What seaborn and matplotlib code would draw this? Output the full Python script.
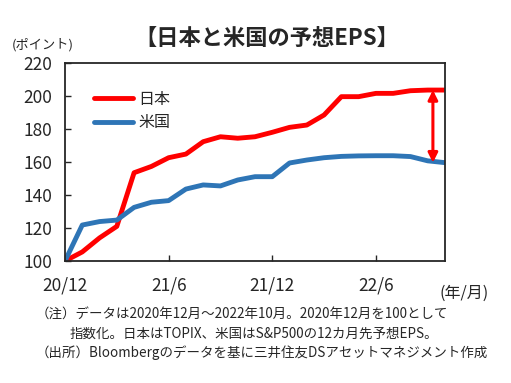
import matplotlib
matplotlib.use("Agg")
import matplotlib.pyplot as plt
import seaborn as sns
import pandas as pd

# months since 2020/12 (0 = 20/12, 22 = 22/10)
months = list(range(23))
japan_eps = [100.0, 105.5, 114.0, 121.0, 153.5, 157.3, 162.6, 164.8, 172.3, 175.3, 174.4, 175.3,
             178.0, 181.0, 182.4, 188.5, 199.6, 199.6, 201.6, 201.6, 203.2, 203.6, 203.6]
us_eps = [100.0, 121.8, 123.9, 124.8, 132.5, 135.6, 136.6, 143.6, 146.1, 145.5, 149.1, 151.1,
          151.1, 159.4, 161.2, 162.6, 163.4, 163.7, 163.8, 163.8, 163.3, 160.7, 159.6]
tick_months = [0, 6, 12, 18]
tick_labels = ["20/12", "21/6", "21/12", "22/6"]
arrow_month = 21.3

notes = [
    "（注）データは2020年12月～2022年10月。2020年12月を100として",
    "指数化。日本はTOPIX、米国はS&P500の12カ月先予想EPS。",
    "（出所）Bloombergのデータを基に三井住友DSアセットマネジメント作成",
]

sns.set_style("ticks")
plt.rcParams["font.family"] = ["Noto Sans CJK JP", "DejaVu Sans"]

RED = "#FF0000"
BLUE = "#2E75B6"
TXT = "#262626"

df = pd.DataFrame({"month": months, "日本": japan_eps, "米国": us_eps})

fig = plt.figure(figsize=(5.11, 3.83), dpi=100)
ax = fig.add_axes([65 / 511, 1 - 261 / 383, 380 / 511, 198 / 383])

sns.lineplot(data=df, x="month", y="日本", ax=ax, color=RED, lw=3.5, label="日本")
sns.lineplot(data=df, x="month", y="米国", ax=ax, color=BLUE, lw=3.5, label="米国")

# double arrow showing the gap at the latest point
ax.annotate("", xy=(arrow_month, japan_eps[-1]), xytext=(arrow_month, us_eps[-1]),
            arrowprops=dict(arrowstyle="<|-|>", color=RED, lw=2.2, mutation_scale=14,
                            shrinkA=0, shrinkB=0))

ax.set_xlim(0, 22)
ax.set_ylim(100, 220)
ax.set_yticks(range(100, 221, 20))
ax.set_xticks(tick_months)
ax.set_xticklabels(tick_labels)
ax.set_xlabel("")
ax.set_ylabel("")
ax.tick_params(direction="in", length=4, width=1, colors="#262626", labelsize=12.5,
               labelcolor=TXT)
ax.tick_params(axis="y", pad=9)
ax.tick_params(axis="x", pad=11)
for s in ax.spines.values():
    s.set_visible(True)
    s.set_linewidth(1.3)
    s.set_color("#262626")

ax.legend(loc="center left", bbox_to_anchor=(0.075, 0.758), frameon=False,
          fontsize=11.5, handlelength=2.5, handletextpad=0.3, labelspacing=0.4,
          borderpad=0, borderaxespad=0)

fig.text(267 / 511, 1 - 38 / 383, "【日本と米国の予想EPS】", ha="center", va="center",
         fontsize=16, fontweight="bold", color=TXT)
fig.text(12 / 511, 1 - 45 / 383, "(ポイント)", ha="left", va="center", fontsize=9.5, color=TXT)
fig.text(489 / 511, 1 - 293 / 383, "(年/月)", ha="right", va="center", fontsize=11.5, color=TXT)

fig.text(36 / 511, 1 - 315 / 383, notes[0], ha="left", va="center", fontsize=9.7, color=TXT)
fig.text(70 / 511, 1 - 334 / 383, notes[1], ha="left", va="center", fontsize=9.7, color=TXT)
fig.text(36 / 511, 1 - 353 / 383, notes[2], ha="left", va="center", fontsize=9.7, color=TXT)

fig.savefig("out.png", dpi=100)
